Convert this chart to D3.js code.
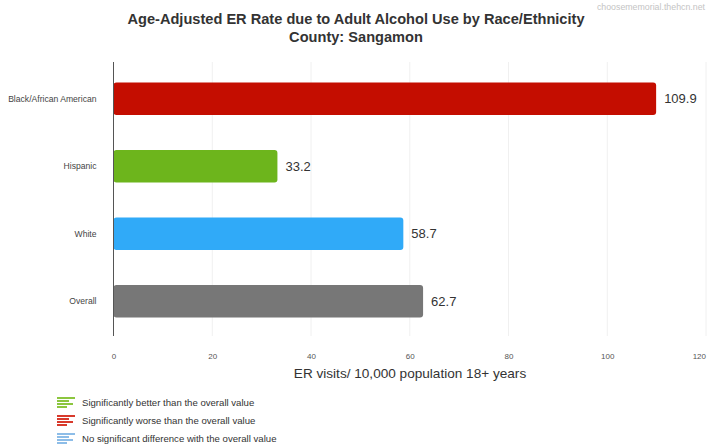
<!DOCTYPE html>
<html><head><meta charset="utf-8">
<script src="https://cdn.jsdelivr.net/npm/d3@7"></script>
<style>body{margin:0;background:#fff;font-family:"Liberation Sans",Arial,sans-serif}</style>
</head><body><svg id="c" width="707" height="447"></svg>
<script>
const categories = ["Black/African American","Hispanic","White","Overall"];
const values = [109.9, 33.2, 58.7, 62.7];
const barColors = ["#c40d00","#6db51c","#30aaf8","#777777"];
const xTicks = [0,20,40,60,80,100,120];
const legendLabels = ["Significantly better than the overall value","Significantly worse than the overall value","No significant difference with the overall value"];
const legendColors = ["#8cc63f","#d83a2c","#8dbde8"];

const svg = d3.select("#c");
const x = d3.scaleLinear().domain([0,120]).range([113.5,706]);
const y = d3.scaleBand().domain(categories).range([65,335]).paddingInner(0.52).paddingOuter(0.26);

// title
svg.append("text").attr("x",356).attr("y",24).attr("text-anchor","middle")
  .attr("font-size",14.6).attr("font-weight","bold").attr("fill","#333")
  .text("Age-Adjusted ER Rate due to Adult Alcohol Use by Race/Ethnicity");
svg.append("text").attr("x",356).attr("y",42).attr("text-anchor","middle")
  .attr("font-size",14.6).attr("font-weight","bold").attr("fill","#333")
  .text("County: Sangamon");
svg.append("text").attr("x",705).attr("y",10).attr("text-anchor","end")
  .attr("font-size",8.8).attr("fill","#c4c4c4").text("choosememorial.thehcn.net");

// grid
svg.append("g").selectAll("line").data(xTicks.slice(1)).join("line")
  .attr("x1",d=>x(d)).attr("x2",d=>x(d)).attr("y1",62).attr("y2",336)
  .attr("stroke","#f0f0f0").attr("stroke-width",1);

// bars
svg.append("g").selectAll("rect").data(values).join("rect")
  .attr("x",x(0)).attr("y",(d,i)=>y(categories[i]))
  .attr("width",d=>x(d)-x(0)).attr("height",y.bandwidth())
  .attr("rx",3).attr("fill",(d,i)=>barColors[i]);

// value labels
svg.append("g").selectAll("text").data(values).join("text")
  .attr("x",d=>x(d)+8).attr("y",(d,i)=>y(categories[i])+y.bandwidth()/2)
  .attr("dy","0.35em").attr("font-size",13).attr("fill","#333")
  .text(d=>d.toFixed(1));

// y axis
const ya = svg.append("g").attr("transform",`translate(${x(0)},0)`)
  .call(d3.axisLeft(y).tickSize(0).tickPadding(17));
ya.select(".domain").attr("stroke","#555").attr("d","M0,62V336");
ya.selectAll("text").attr("font-size",8.6).attr("fill","#444").attr("font-family","Liberation Sans, Arial, sans-serif");

// x axis tick labels
const xa = svg.append("g").attr("transform","translate(0,336)")
  .call(d3.axisBottom(x).tickValues(xTicks).tickSize(0).tickPadding(17));
xa.select(".domain").remove();
xa.selectAll("text").attr("font-size",8).attr("fill","#555").attr("font-family","Liberation Sans, Arial, sans-serif");
xa.selectAll("text").filter(d=>d===120).attr("text-anchor","end").attr("dx","-0.5");

svg.append("text").attr("x",410).attr("y",378).attr("text-anchor","middle")
  .attr("font-size",13.6).attr("fill","#333").text("ER visits/ 10,000 population 18+ years");

// legend
const lg = svg.append("g").selectAll("g").data(legendLabels).join("g")
  .attr("transform",(d,i)=>`translate(57,${397+i*18})`);
const lens = [18,12,16,10];
lg.each(function(d,i){
  const g = d3.select(this);
  lens.forEach((L,k)=>{
    g.append("rect").attr("x",0).attr("y",k*3).attr("width",L).attr("height",2)
      .attr("fill",legendColors[i]);
  });
});
lg.append("text").attr("x",25).attr("y",6).attr("dy","0.35em").attr("font-size",9.6)
  .attr("fill","#333").text(d=>d);
</script></body></html>
